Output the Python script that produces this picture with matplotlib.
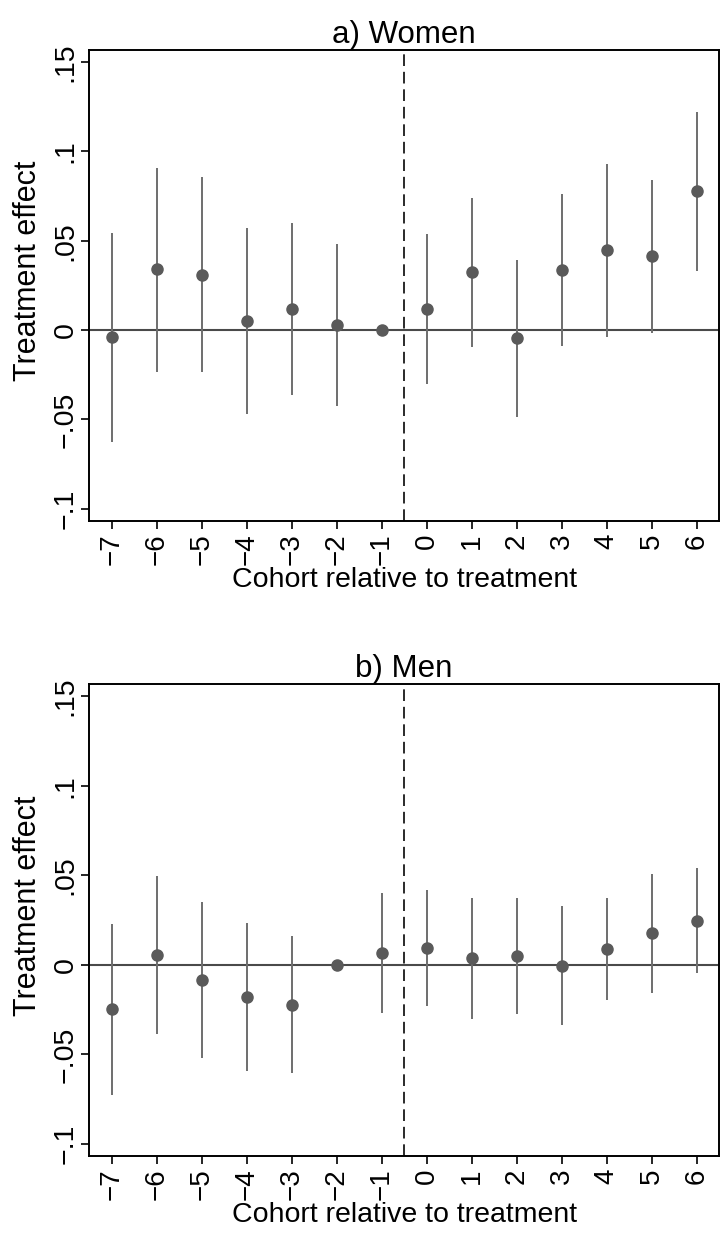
import numpy as np
import matplotlib
matplotlib.use("Agg")
import matplotlib.pyplot as plt

plt.rcParams["font.family"] = ["Liberation Sans", "DejaVu Sans"]

cohorts = [-7, -6, -5, -4, -3, -2, -1, 0, 1, 2, 3, 4, 5, 6]
xtick_labels = ["\u22127", "\u22126", "\u22125", "\u22124", "\u22123", "\u22122", "\u22121",
                "0", "1", "2", "3", "4", "5", "6"]
ytick_vals = [-0.1, -0.05, 0, 0.05, 0.1, 0.15]
ytick_labels = ["\u2212.1", "\u2212.05", "0", ".05", ".1", ".15"]

# a) Women  (reference cohort -1 has no interval)
women_est = [-0.0041, 0.034, 0.031, 0.005, 0.0118, 0.003, 0.0, 0.0118, 0.0323, -0.0047, 0.0334, 0.045, 0.0413, 0.0777]
women_lo = [-0.0625, -0.0233, -0.0237, -0.0468, -0.0366, -0.0426, 0.0, -0.0302, -0.0095, -0.0485, -0.0091, -0.0037, -0.0015, 0.033]
women_hi = [0.0545, 0.0909, 0.0855, 0.057, 0.060, 0.048, 0.0, 0.0536, 0.0741, 0.0394, 0.0761, 0.0931, 0.0838, 0.1219]

# b) Men  (reference cohort -2 has no interval)
men_est = [-0.0248, 0.0056, -0.0084, -0.0177, -0.0224, 0.0, 0.0067, 0.0093, 0.0037, 0.0052, -0.0004, 0.0087, 0.0177, 0.0248]
men_lo = [-0.0725, -0.0386, -0.052, -0.059, -0.0606, 0.0, -0.0271, -0.0231, -0.0302, -0.0274, -0.0336, -0.0198, -0.0157, -0.0047]
men_hi = [0.0229, 0.0494, 0.0354, 0.0235, 0.0162, 0.0, 0.0404, 0.0416, 0.0376, 0.0376, 0.0328, 0.0375, 0.0509, 0.0542]

fig = plt.figure(figsize=(7.25, 12.37), dpi=100)
ax1 = fig.add_axes([0.1228, 0.5791, 0.8693, 0.3805])
ax2 = fig.add_axes([0.1228, 0.0655, 0.8693, 0.3813])


def panel(ax, title, est, lo, hi):
    x = np.array(cohorts)
    ax.axhline(0, color="#4a4a4a", lw=1.5, zorder=1)
    ax.axvline(-0.5, color="#2a2a2a", lw=1.4, dashes=(6, 3), zorder=1)
    ax.vlines(x, lo, hi, color="#6e6e6e", lw=1.4, zorder=2)
    ax.plot(x, est, "o", color="#5a5a5a", ms=8, zorder=3)
    ax.set_xlim(-7.5, 6.5)
    ax.set_ylim(-0.1067, 0.1567)
    ax.set_xticks(cohorts)
    ax.set_xticklabels(xtick_labels, rotation=90, fontsize=20)
    ax.set_yticks(ytick_vals)
    ax.set_yticklabels(ytick_labels, rotation=90, va="center", fontsize=20.5)
    ax.tick_params(axis="x", direction="out", length=6, width=1.2, pad=3)
    ax.tick_params(axis="y", direction="out", length=6, width=1.2, pad=1.5)
    for s in ax.spines.values():
        s.set_linewidth(1.4)
    ax.set_xlabel("Cohort relative to treatment", fontsize=20.5, labelpad=1.5)
    ax.set_ylabel("Treatment effect", fontsize=22)
    ax.yaxis.set_label_coords(-0.073, 0.53)
    ax.set_title(title, fontsize=22.5, pad=5)


panel(ax1, "a) Women", women_est, women_lo, women_hi)
panel(ax2, "b) Men", men_est, men_lo, men_hi)

fig.savefig("out.png", dpi=100)
